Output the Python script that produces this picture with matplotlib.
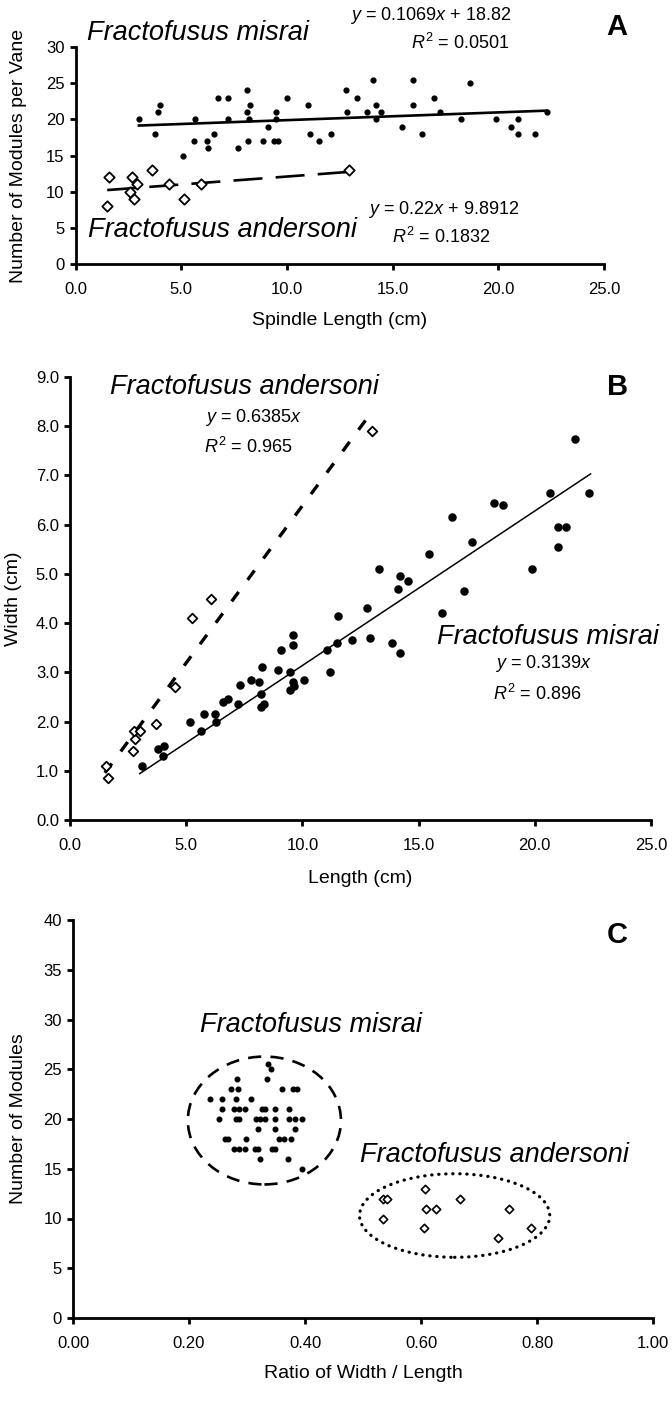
import numpy as np
import matplotlib
matplotlib.use("Agg")
import matplotlib.pyplot as plt
from matplotlib.patches import Ellipse

plt.rcParams['font.family'] = ['Liberation Sans', 'DejaVu Sans']
plt.rcParams['mathtext.fontset'] = 'custom'
plt.rcParams['mathtext.rm'] = 'Liberation Sans'
plt.rcParams['mathtext.it'] = 'Liberation Sans:italic'

# Panel A: spindle length vs modules per vane
a_misrai_x = [3.0, 3.75, 3.9, 4.0, 5.1, 5.65, 5.6, 6.2, 6.25, 6.55, 6.75, 7.2, 7.2, 7.7,
              8.1, 8.1, 8.25, 8.15, 8.2, 8.85, 9.1, 9.4, 9.6, 9.5, 9.5, 10.0, 11.0, 11.1,
              11.5, 12.1, 12.8, 12.85, 13.3, 13.8, 14.05, 14.2, 14.2, 14.45, 15.45, 15.95,
              15.95, 16.4, 16.95, 17.25, 18.25, 18.65, 19.9, 20.6, 20.95, 20.95, 21.75, 22.3]
a_misrai_y = [20, 18, 21, 22, 15, 20, 17, 17, 16, 18, 23, 23, 20, 16,
              24, 21, 22, 17, 20, 17, 19, 17, 17, 21, 20, 23, 22, 18,
              17, 18, 24, 21, 23, 21, 25.5, 22, 20, 21, 19, 25.5,
              22, 18, 23, 21, 20, 25, 20, 19, 20, 18, 18, 21]
a_anders_x = [1.6, 1.5, 2.65, 2.6, 2.75, 2.9, 3.6, 4.4, 5.15, 5.95, 12.95]
a_anders_y = [12, 8, 12, 10, 9, 11, 13, 11, 9, 11, 13]
a_misrai_fit = (0.1069, 18.82, 3.0, 22.3)
a_anders_fit = (0.22, 9.8912, 1.5, 12.95)

# Panel B: length vs width
b_misrai_x = [3.1, 3.8, 4.05, 4.0, 5.15, 5.65, 5.75, 6.25, 6.3, 6.6, 6.8, 7.25, 7.3, 7.8,
              8.15, 8.25, 8.2, 8.2, 8.35, 8.95, 9.1, 9.45, 9.6, 9.6, 9.45, 9.6, 9.65, 10.05,
              11.05, 11.2, 11.5, 11.55, 12.15, 12.8, 12.9, 13.3, 13.85, 14.2, 14.1, 14.2,
              14.55, 15.45, 16.0, 16.45, 16.95, 17.3, 18.25, 18.65, 19.9, 20.65, 21.0, 21.0,
              21.35, 21.75, 22.35]
b_misrai_y = [1.1, 1.45, 1.5, 1.3, 2.0, 1.8, 2.15, 2.15, 2.0, 2.4, 2.45, 2.35, 2.75, 2.85,
              2.8, 3.1, 2.55, 2.3, 2.35, 3.05, 3.45, 3.0, 3.75, 3.55, 2.65, 2.8, 2.72, 2.85,
              3.45, 3.0, 3.6, 4.15, 3.65, 4.3, 3.7, 5.1, 3.6, 3.4, 4.7, 4.95,
              4.85, 5.4, 4.2, 6.15, 4.65, 5.65, 6.45, 6.4, 5.1, 6.65, 5.55, 5.95,
              5.95, 7.75, 6.65]
b_anders_x = [1.55, 1.65, 2.7, 2.8, 2.75, 3.0, 3.7, 4.5, 5.25, 6.05, 13.0]
b_anders_y = [1.1, 0.85, 1.4, 1.65, 1.8, 1.8, 1.95, 2.7, 4.1, 4.5, 7.9]
b_misrai_fit = (0.3139, 0.0, 3.0, 22.4)
b_anders_fit = (0.6385, 0.0, 1.5, 13.0)

# Panel C: width/length ratio vs number of modules
c_misrai_x = [0.337, 0.341,
              0.282, 0.334,
              0.272, 0.284, 0.361, 0.379, 0.386,
              0.236, 0.257, 0.281, 0.307,
              0.257, 0.278, 0.287, 0.297, 0.325, 0.331, 0.349, 0.373,
              0.251, 0.281, 0.287, 0.316, 0.322, 0.331, 0.349, 0.373, 0.382, 0.394,
              0.319, 0.349, 0.382,
              0.262, 0.268, 0.299, 0.355, 0.364, 0.376,
              0.278, 0.287, 0.296, 0.313, 0.319, 0.343, 0.349,
              0.322, 0.370,
              0.394]
c_misrai_y = [25.5, 25,
              24, 24,
              23, 23, 23, 23, 23,
              22, 22, 22, 22,
              21, 21, 21, 21, 21, 21, 21, 21,
              20, 20, 20, 20, 20, 20, 20, 20, 20, 20,
              19, 19, 19,
              18, 18, 18, 18, 18, 18,
              17, 17, 17, 17, 17, 17, 17,
              16, 16,
              15]
c_anders_x = [0.535, 0.542, 0.535, 0.607, 0.609, 0.625, 0.605, 0.668, 0.751, 0.732, 0.789]
c_anders_y = [12, 12, 10, 13, 11, 11, 9, 12, 11, 8, 9]

W, H = 672, 1416


def frame(ax, xmax, ymax, xticks, yticks, xfmt, yfmt):
    ax.set_xlim(0, xmax)
    ax.set_ylim(0, ymax)
    for s in ['top', 'right']:
        ax.spines[s].set_visible(False)
    for s in ['left', 'bottom']:
        ax.spines[s].set_linewidth(2.0)
    ax.set_xticks(xticks)
    ax.set_yticks(yticks)
    ax.set_xticklabels([xfmt.format(v) for v in xticks])
    ax.set_yticklabels([yfmt.format(v) for v in yticks])
    ax.tick_params(axis='both', direction='out', length=4, width=2.0, labelsize=12)
    ax.tick_params(axis='x', pad=9)
    ax.tick_params(axis='y', pad=4)
    for lab in ax.get_xticklabels() + ax.get_yticklabels():
        lab.set_clip_on(False)


def axes_at(fig, left, right, top, bottom):
    return fig.add_axes([left / W, 1 - bottom / H, (right - left) / W, (bottom - top) / H])


def fit_line(ax, fit, **kw):
    m, b, x0, x1 = fit
    xs = np.array([x0, x1])
    ax.plot(xs, m * xs + b, color='black', **kw)


fig = plt.figure(figsize=(W / 100, H / 100), dpi=100)

# ---- A ----
ax = axes_at(fig, 75.5, 604, 47, 264)
frame(ax, 25, 30, [0, 5, 10, 15, 20, 25], [0, 5, 10, 15, 20, 25, 30], '{:.1f}', '{:d}')
fit_line(ax, a_misrai_fit, lw=1.9, zorder=2)
fit_line(ax, a_anders_fit, lw=1.9, dashes=(11, 5), zorder=2)
ax.scatter(a_misrai_x, a_misrai_y, s=12, color='black', zorder=3, clip_on=False)
ax.scatter(a_anders_x, a_anders_y, s=28, marker='D', facecolor='white', edgecolor='black',
           linewidth=1.3, zorder=4, clip_on=False)
ax.text(0.55, 32.0, 'Fractofusus misrai', style='italic', fontsize=19.5, va='center')
ax.text(16.8, 34.4, '$y$ = 0.1069$x$ + 18.82', fontsize=13, ha='center', va='center')
ax.text(18.2, 30.6, '$R^2$ = 0.0501', fontsize=13, ha='center', va='center')
ax.text(0.6, 4.7, 'Fractofusus andersoni', style='italic', fontsize=19.5, va='center')
ax.text(17.4, 7.5, '$y$ = 0.22$x$ + 9.8912', fontsize=13, ha='center', va='center')
ax.text(17.3, 3.7, '$R^2$ = 0.1832', fontsize=13, ha='center', va='center')
ax.text(25.6, 32.8, 'A', fontsize=21, fontweight='bold', ha='center', va='center')
ax.set_xlabel('Spindle Length (cm)', fontsize=14)
ax.set_ylabel('Number of Modules per Vane', fontsize=14)
ax.xaxis.set_label_coords(0.5, -0.22)
ax.yaxis.set_label_coords(-0.092, 0.5)

# ---- B ----
ax = axes_at(fig, 70, 651, 377, 820)
frame(ax, 25, 9, [0, 5, 10, 15, 20, 25], [0, 1, 2, 3, 4, 5, 6, 7, 8, 9], '{:.1f}', '{:.1f}')
fit_line(ax, b_misrai_fit, lw=1.1, zorder=2)
fit_line(ax, b_anders_fit, lw=2.4, dashes=(3.5, 4.5), zorder=2)
ax.scatter(b_misrai_x, b_misrai_y, s=26, color='black', zorder=3, clip_on=False)
ax.scatter(b_anders_x, b_anders_y, s=24, marker='D', facecolor='white', edgecolor='black',
           linewidth=1.3, zorder=4, clip_on=False)
ax.text(7.5, 8.8, 'Fractofusus andersoni', style='italic', fontsize=19.5, ha='center', va='center')
ax.text(7.9, 8.18, '$y$ = 0.6385$x$', fontsize=13, ha='center', va='center')
ax.text(7.68, 7.57, '$R^2$ = 0.965', fontsize=13, ha='center', va='center')
ax.text(20.57, 3.72, 'Fractofusus misrai', style='italic', fontsize=19.5, ha='center', va='center')
ax.text(20.38, 3.18, '$y$ = 0.3139$x$', fontsize=13, ha='center', va='center')
ax.text(20.12, 2.57, '$R^2$ = 0.896', fontsize=13, ha='center', va='center')
ax.text(23.58, 8.8, 'B', fontsize=21, fontweight='bold', ha='center', va='center')
ax.set_xlabel('Length (cm)', fontsize=14)
ax.set_ylabel('Width (cm)', fontsize=14)
ax.xaxis.set_label_coords(0.5, -0.112)
ax.yaxis.set_label_coords(-0.083, 0.5)

# ---- C ----
ax = axes_at(fig, 73, 653, 920, 1318)
frame(ax, 1.0, 40, [0, 0.2, 0.4, 0.6, 0.8, 1.0], [0, 5, 10, 15, 20, 25, 30, 35, 40],
      '{:.2f}', '{:d}')
ax.scatter(c_misrai_x, c_misrai_y, s=11, color='black', zorder=3)
ax.scatter(c_anders_x, c_anders_y, s=18, marker='D', facecolor='white', edgecolor='black',
           linewidth=1.2, zorder=4)
ax.add_patch(Ellipse((0.33, 19.85), 0.264, 12.85, fill=False, edgecolor='black',
                     linewidth=1.9, linestyle=(0, (5, 3.5))))
ax.add_patch(Ellipse((0.658, 10.3), 0.328, 8.4, fill=False, edgecolor='black',
                     linewidth=2.3, linestyle=(0, (0.1, 2.1)), capstyle='round'))
ax.text(0.41, 29.4, 'Fractofusus misrai', style='italic', fontsize=19.5, ha='center', va='center')
ax.text(0.727, 16.4, 'Fractofusus andersoni', style='italic', fontsize=19.5, ha='center', va='center')
ax.text(0.938, 38.5, 'C', fontsize=21, fontweight='bold', ha='center', va='center')
ax.set_xlabel('Ratio of Width / Length', fontsize=14)
ax.set_ylabel('Number of Modules', fontsize=14)
ax.xaxis.set_label_coords(0.5, -0.117)
ax.yaxis.set_label_coords(-0.079, 0.5)

fig.savefig('out.png', dpi=100)
